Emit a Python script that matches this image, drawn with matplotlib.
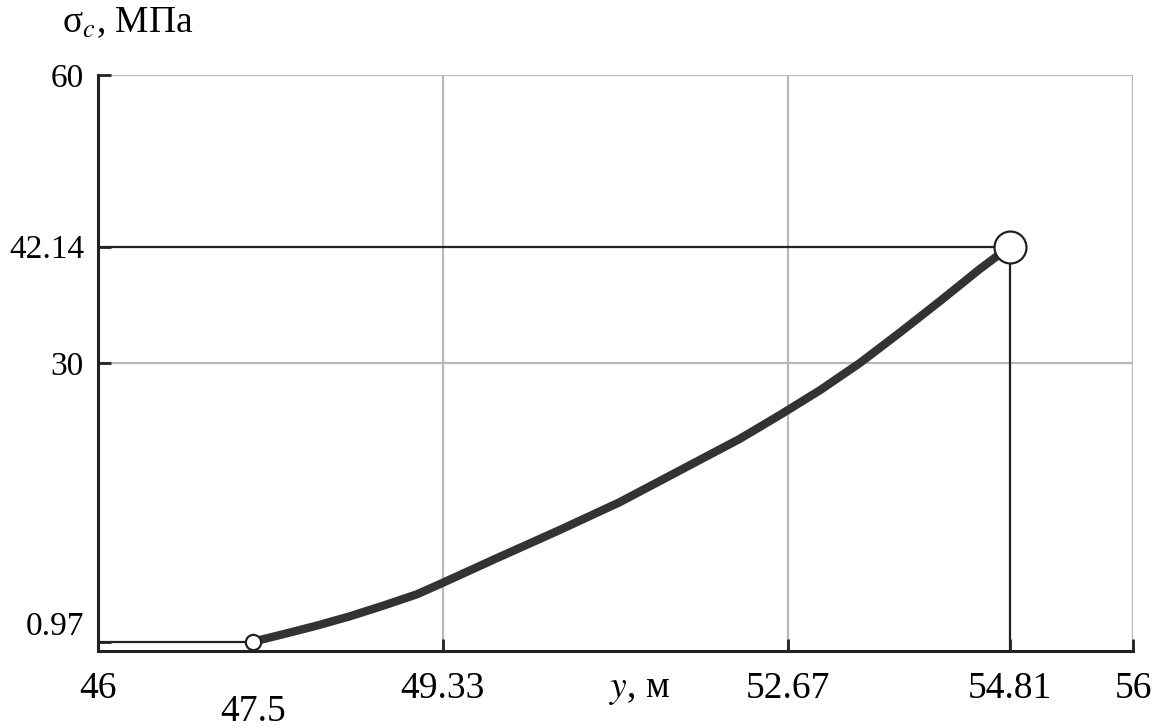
import matplotlib
matplotlib.use("Agg")
import matplotlib.pyplot as plt

# данные кривой sigma_c(y)
y_m = [47.5, 47.79, 48.10, 48.43, 48.75, 49.08, 49.31, 49.88, 50.46, 51.04, 51.62, 52.20,
       52.59, 52.98, 53.36, 53.75, 54.14, 54.52, 54.81]
sigma = [0.97, 1.75, 2.6, 3.6, 4.7, 5.9, 7.0, 9.8, 12.6, 15.5, 18.8, 22.1,
         24.6, 27.2, 30.0, 33.2, 36.5, 39.8, 42.14]

x_ticks = [46, 47.5, 49.33, 52.67, 54.81, 56]
x_labels = ["46", "47.5", "49.33", "52.67", "54.81", "56"]
y_ticks = [0.97, 30, 42.14, 60]
y_labels = ["0.97", "30", "42.14", "60"]
x_grid = [49.33, 52.67, 56]
y_grid = [30, 60]

plt.rcParams["font.family"] = ["Liberation Serif", "DejaVu Serif"]
plt.rcParams["mathtext.fontset"] = "stix"

fig = plt.figure(figsize=(11.55, 7.28), dpi=100)
ax = fig.add_axes([0.0848, 0.1058, 0.8962, 0.791])

# серые линии сетки
for gx in x_grid:
    ax.axvline(gx, color="#b8b8b8", lw=1.6, zorder=1)
for gy in y_grid:
    ax.axhline(gy, color="#b8b8b8", lw=1.6, zorder=1)

# опорные линии к конечным точкам
ax.hlines(sigma[0], 46, y_m[0], color="#222222", lw=1.6, zorder=2)
ax.hlines(sigma[-1], 46, y_m[-1], color="#222222", lw=1.6, zorder=2)
ax.vlines(y_m[-1], 0, sigma[-1], color="#222222", lw=1.6, zorder=2)

ax.plot(y_m, sigma, color="#333333", lw=6, solid_capstyle="butt", solid_joinstyle="round", zorder=3)
ax.plot(y_m[0], sigma[0], "o", ms=11, mfc="white", mec="#222222", mew=1.6, zorder=4)
ax.plot(y_m[-1], sigma[-1], "o", ms=23, mfc="white", mec="#222222", mew=1.6, zorder=4)

ax.set_xlim(46, 56)
ax.set_ylim(0, 60)
ax.set_xticks(x_ticks, x_labels)
ax.set_yticks(y_ticks, y_labels)
ax.tick_params(direction="in", length=9, width=2, color="#222222")
ax.tick_params(axis="x", labelsize=27, pad=15)
ax.tick_params(axis="y", labelsize=24, pad=10)
ax.xaxis.get_major_ticks()[1].set_pad(31)
ax.get_yticklabels()[0].set_va("bottom")

for s in ["left", "bottom"]:
    ax.spines[s].set_linewidth(2.2)
    ax.spines[s].set_color("#222222")
for s in ["top", "right"]:
    ax.spines[s].set_visible(False)

fig.text(0.054, 1 - 23 / 728, r"σ$_{\mathit{c}}$, МПа", fontsize=27, va="center", ha="left")
fig.text(640 / 1155, 1 - 690 / 728, r"$\mathit{y}$, м", fontsize=27, va="center", ha="center")

fig.savefig("out.png", dpi=100)
